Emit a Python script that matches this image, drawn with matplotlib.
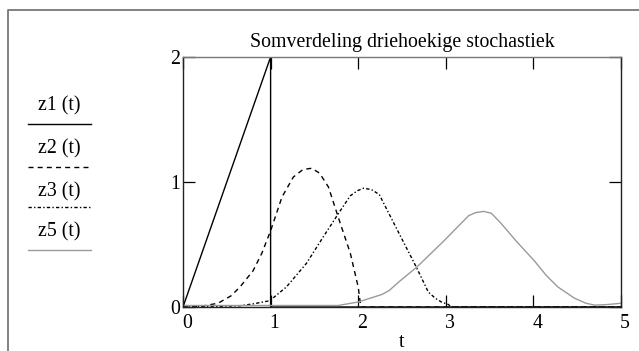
import matplotlib
matplotlib.use("Agg")
import matplotlib.pyplot as plt
from matplotlib.lines import Line2D
from matplotlib.transforms import ScaledTranslation

# --- density curves of the sum of triangular variables ---------------------
t_z1 = [0.0, 1.0, 1.0, 5.0]
z1 = [0.0, 2.0, 0.0, 0.0]

t_z2 = [0.0, 0.2, 0.4, 0.55, 0.65, 0.8, 0.9, 1.0, 1.13, 1.26, 1.37, 1.47,
        1.56, 1.66, 1.795, 1.91, 2.0, 2.03, 5.0]
z2 = [0.0, 0.005, 0.03, 0.09, 0.16, 0.29, 0.43, 0.61, 0.88, 1.04, 1.10, 1.11,
      1.07, 0.96, 0.67, 0.43, 0.16, 0.0, 0.0]

t_z3 = [0.0, 0.4, 0.65, 0.8, 0.99, 1.18, 1.41, 1.60, 1.795, 1.91, 1.99, 2.06,
        2.15, 2.24, 2.48, 2.67, 2.80, 2.88, 2.95, 3.03, 3.06, 5.0]
z3 = [0.0, 0.005, 0.01, 0.025, 0.05, 0.16, 0.35, 0.56, 0.77, 0.89, 0.93, 0.95,
      0.94, 0.90, 0.57, 0.31, 0.12, 0.07, 0.04, 0.02, 0.0, 0.0]

t_z5 = [0.0, 1.77, 2.0, 2.27, 2.35, 2.48, 2.67, 2.98, 3.26, 3.34, 3.43, 3.52,
        3.63, 3.8, 4.01, 4.15, 4.28, 4.47, 4.6, 4.7, 4.85, 5.0]
z5 = [0.012, 0.012, 0.04, 0.10, 0.13, 0.21, 0.32, 0.53, 0.73, 0.755, 0.765,
      0.75, 0.67, 0.53, 0.37, 0.25, 0.16, 0.07, 0.03, 0.015, 0.02, 0.03]

x_ticks = [0, 1, 2, 3, 4, 5]
y_ticks = [0, 1, 2]
trace_names = ["z1 (t)", "z2 (t)", "z3 (t)", "z5 (t)"]

TITLE = "Somverdeling driehoekige stochastiek"
FS = 14.3

plt.rcParams["font.family"] = ["Liberation Serif", "DejaVu Serif"]

W, H = 639, 351
fig = plt.figure(figsize=(W / 100, H / 100), dpi=100)


def px(x, y):
    """pixel (from top-left) -> figure fraction"""
    return x / W, 1 - y / H


ax = fig.add_axes([183 / W, 1 - 307 / H, (621 - 183) / W, (307 - 57) / H])

styles = [
    dict(color="black", lw=1.0, ls="-"),
    dict(color="black", lw=1.0, dashes=(3.6, 3.0)),
    dict(color="black", lw=1.0, dashes=(2.4, 1.6, 1.0, 1.6)),
    dict(color="#9a9a9a", lw=1.0, ls="-"),
]

ax.plot(t_z1, z1, **styles[0])
ax.plot(t_z2, z2, **styles[1])
ax.plot(t_z3, z3, **styles[2])
ax.plot(t_z5, z5, **styles[3])

ax.set_xlim(0, 5)
ax.set_ylim(0, 2)
ax.set_xticks(x_ticks)
ax.set_yticks(y_ticks)
ax.tick_params(direction="in", length=8.5, width=0.9, top=True, right=True,
               labelsize=FS, pad=5, colors="black")
ax.tick_params(axis="y", pad=2)
for lab in ax.get_xticklabels():
    lab.set_transform(lab.get_transform()
                      + ScaledTranslation(4 / 100, 0, fig.dpi_scale_trans))
for name, sp in ax.spines.items():
    sp.set_linewidth(1.0)
    sp.set_color("#777777" if name == "top" else "#222222")

ax.set_title(TITLE, fontsize=FS, pad=7)
ax.set_xlabel("t", fontsize=FS, labelpad=0)

# trace names on the left, each with a sample of its line style
label_y = [106, 149, 192, 232]
line_y = [124, 167, 207, 250]
for name, ly, sy, st in zip(trace_names, label_y, line_y, styles):
    fig.text(*px(59, ly), name, fontsize=FS, ha="center", va="center")
    x0, y0 = px(28, sy)
    x1, _ = px(91, sy)
    fig.add_artist(Line2D([x0, x1], [y0, y0], transform=fig.transFigure, **st))

# region frame (left and top edges)
fx, fy = px(8, 10)
fig.add_artist(Line2D([fx, fx, 1.0], [0.0, fy, fy], transform=fig.transFigure,
                      color="#777777", lw=1.3))

fig.savefig("out.png", dpi=100)
